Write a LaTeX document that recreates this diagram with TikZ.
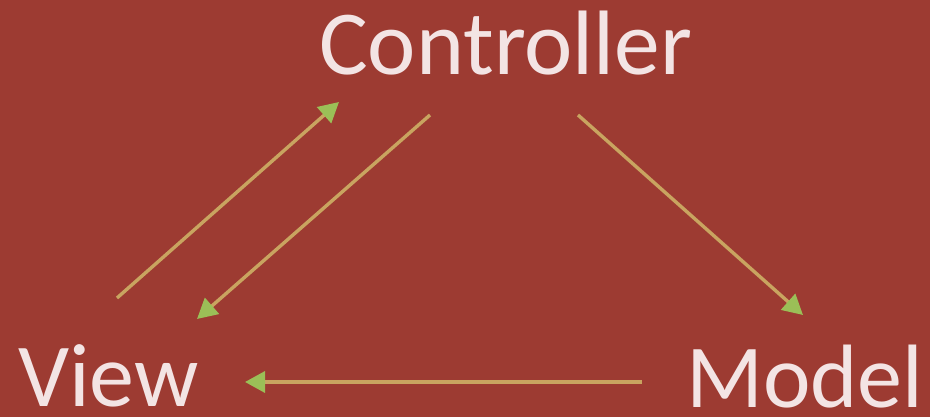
\documentclass[tikz,border=0pt]{standalone}
\usepackage{fontspec}
\setmainfont{Carlito}
\usetikzlibrary{arrows.meta}
\definecolor{bgred}{HTML}{9D3B32}
\definecolor{txtcol}{HTML}{F3E4E4}
\definecolor{linecol}{HTML}{C9A460}
\definecolor{headcol}{HTML}{9BBF57}
\tikzset{
  label/.style={inner sep=0pt, anchor=base west, text depth=0pt, text=txtcol, font=\fontsize{90}{100}\selectfont},
  flow/.style={draw=linecol, line width=3.4pt, -{Triangle[length=20pt,width=21pt,color=headcol]}}
}
\begin{document}
\begin{tikzpicture}[x=1pt,y=1pt]
\fill[bgred] (0,0) rectangle (930,417);
\useasboundingbox (0,0) rectangle (930,417);
\node[label, font=\fontsize{91.5}{100}\selectfont] (ctrl) at (319,342) {Controller};
\node[label] (view) at (18,10) {View};
\node[label] (model) at (686,9) {Model};
\coordinate (a1) at (117,119);
\coordinate (a2) at (339,315);
\coordinate (b1) at (430,302);
\coordinate (b2) at (197,98);
\coordinate (c1) at (578,302);
\coordinate (c2) at (803,102);
\coordinate (d1) at (642,35);
\coordinate (d2) at (245,35);
\draw[flow] (a1) -- (a2);
\draw[flow] (b1) -- (b2);
\draw[flow] (c1) -- (c2);
\draw[flow] (d1) -- (d2);
\end{tikzpicture}
\end{document}
